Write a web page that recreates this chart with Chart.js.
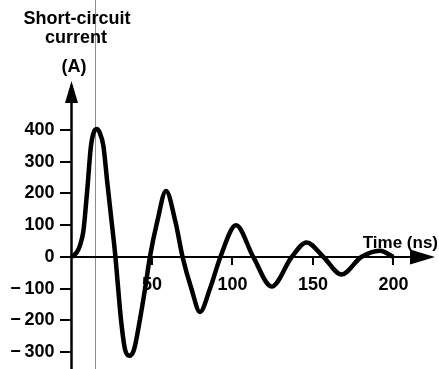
<!DOCTYPE html>
<html>
<head>
<meta charset="utf-8">
<script src="https://cdn.jsdelivr.net/npm/chart.js@4.4.1/dist/chart.umd.min.js"></script>
<style>
  body { margin: 0; background: #fff; }
</style>
</head>
<body>
<canvas id="chartCurrent" width="439" height="369"></canvas>
<script>
// values
const timeNs = [0, 3.2, 5.5, 7.3, 8.4, 10.2, 11.9, 13.5, 15.6, 17.5, 19.8, 22.2, 24.5, 27.3,
  29, 30.8, 33.2, 35.9, 38.8, 42.4, 45.7, 48.7, 53.2, 58.7, 64.6, 69,
  74.5, 79.8, 86, 92.5, 102.2, 112.9, 124.3, 136.8, 146, 156.5, 167.8, 180, 191.6, 200];
const currentA = [0, 14, 40, 79, 131, 236, 342, 388, 403, 392, 350, 236, 131, 0,
  -100, -200, -290, -311, -292, -200, -100, 0, 110, 208, 110, 0,
  -100, -173, -100, 0, 100, 0, -93, 0, 46, 0, -55, 0, 20, 0];

const xTicks = [50, 100, 150, 200];
const yTicks = [-300, -200, -100, 0, 100, 200, 300, 400];
const titleLines = ['Short-circuit', 'current', '(A)'];
const xAxisLabel = 'Time (ns)';
const scanLineAt = 14.6; // thin grey line that runs through the scan

const fmt = v => v < 0 ? '\u2212\u2009' + Math.abs(v) : String(v);
const tickFont = { family: 'Liberation Sans', size: 18, weight: 'bold' };
const yMin = -302.4, yMax = 554.3;

// axis lines, arrow heads and the free text
const axesPlugin = {
  id: 'axesArrows',
  beforeDatasetsDraw(chart) {
    const { ctx, scales: { x, y } } = chart;
    const x0 = x.getPixelForValue(0);
    const y0 = y.getPixelForValue(0);
    ctx.save();

    const sx = Math.round(x.getPixelForValue(scanLineAt)) + 0.5;
    ctx.strokeStyle = '#8c8c8c';
    ctx.lineWidth = 1;
    ctx.beginPath(); ctx.moveTo(sx, 0); ctx.lineTo(sx, chart.height); ctx.stroke();

    ctx.strokeStyle = '#000';
    ctx.lineWidth = 2.5;
    ctx.beginPath(); ctx.moveTo(x0, y.top + 12); ctx.lineTo(x0, chart.height); ctx.stroke();
    ctx.lineWidth = 2;
    ctx.beginPath(); ctx.moveTo(x0, y0); ctx.lineTo(x.right - 12, y0); ctx.stroke();

    ctx.fillStyle = '#000';
    ctx.beginPath();
    ctx.moveTo(x0, y.top); ctx.lineTo(x0 - 6.5, y.top + 22); ctx.lineTo(x0 + 6.5, y.top + 22);
    ctx.closePath(); ctx.fill();
    ctx.beginPath();
    ctx.moveTo(x.right, y0); ctx.lineTo(x.right - 25, y0 - 7.5); ctx.lineTo(x.right - 25, y0 + 7.5);
    ctx.closePath(); ctx.fill();

    ctx.font = 'bold 18px "Liberation Sans"';
    ctx.textAlign = 'center';
    ctx.textBaseline = 'alphabetic';
    ctx.fillText(titleLines[0], 77, 24);
    ctx.fillText(titleLines[1], 76, 43);
    ctx.fillText(titleLines[2], 74, 72);
    ctx.font = 'bold 17px "Liberation Sans"';
    ctx.textAlign = 'right';
    ctx.fillText(xAxisLabel, 438, 248);
    ctx.restore();
  }
};

new Chart(document.getElementById('chartCurrent'), {
  type: 'line',
  data: {
    datasets: [{
      data: timeNs.map((t, i) => ({ x: t, y: currentA[i] })),
      borderColor: '#000',
      borderWidth: 4.5,
      pointRadius: 0,
      cubicInterpolationMode: 'monotone',
      fill: false,
      clip: false
    }]
  },
  options: {
    responsive: false,
    animation: false,
    layout: { padding: { left: 71.5, right: 4, top: 81, bottom: 16 } },
    plugins: { legend: { display: false }, tooltip: { enabled: false } },
    scales: {
      x: {
        type: 'linear',
        position: { y: 0 },
        min: 0,
        max: 225.8,
        afterBuildTicks: s => { s.ticks = xTicks.map(v => ({ value: v })); },
        border: { display: false },
        grid: { drawOnChartArea: false, drawTicks: true, tickLength: 8, color: '#000', lineWidth: 2 },
        ticks: { color: '#000', font: tickFont, padding: 9, maxRotation: 0, autoSkip: false, callback: v => fmt(v) }
      },
      // tick marks on the current axis
      y: {
        type: 'linear',
        position: { x: 0 },
        min: yMin,
        max: yMax,
        afterBuildTicks: s => { s.ticks = yTicks.map(v => ({ value: v })); },
        border: { display: false },
        grid: { drawOnChartArea: false, drawTicks: true, tickLength: 12, color: '#000', lineWidth: 2 },
        ticks: { display: false }
      },
      // the numbers, set a little to the left of the tick marks
      yLabels: {
        type: 'linear',
        axis: 'y',
        position: { x: -10.6 },
        min: yMin,
        max: yMax,
        afterBuildTicks: s => { s.ticks = yTicks.map(v => ({ value: v })); },
        border: { display: false },
        grid: { display: false, drawTicks: false },
        ticks: { color: '#000', font: tickFont, padding: 0, autoSkip: false, callback: v => fmt(v) }
      }
    }
  },
  plugins: [axesPlugin]
});
</script>
</body>
</html>
